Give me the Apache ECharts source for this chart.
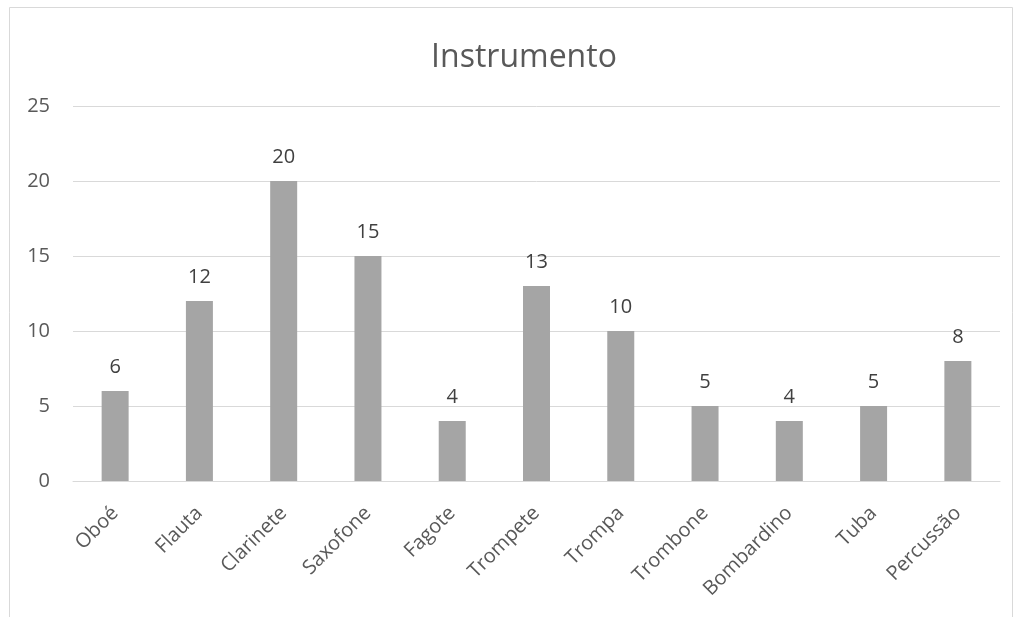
<!DOCTYPE html>
<html>
<head>
<meta charset="utf-8">
<script src="https://cdn.jsdelivr.net/npm/echarts@6/dist/echarts.min.js"></script>
<style>
  html, body { margin: 0; padding: 0; background: #fff; }
  #chart { width: 1021px; height: 617px; }
</style>
</head>
<body>
<div id="chart"></div>
<script>
  // dados do gráfico
  const categories = ["Oboé", "Flauta", "Clarinete", "Saxofone", "Fagote", "Trompete", "Trompa", "Trombone", "Bombardino", "Tuba", "Percussão"];
  const counts = [6, 12, 20, 15, 4, 13, 10, 5, 4, 5, 8];
  const yTicks = [0, 5, 10, 15, 20, 25];

  const font = "'Open Sans', 'Noto Sans', sans-serif";
  const myChart = echarts.init(document.getElementById("chart"));
  const option = {
    animation: false,
    backgroundColor: "#fff",
    graphic: [
      {
        type: "rect",
        shape: { x: 9.5, y: 7.5, width: 1003, height: 640 },
        style: { fill: "none", stroke: "#d9d9d9", lineWidth: 1 },
        silent: true,
      },
    ],
    title: {
      text: "Instrumento",
      left: 519,
      top: 37,
      textAlign: "center",
      textStyle: { fontFamily: font, fontSize: 32, fontWeight: "normal", color: "#595959" },
    },
    grid: { left: 73, right: 21, top: 106, bottom: 136 },
    xAxis: {
      type: "category",
      data: categories,
      axisLine: { lineStyle: { color: "#d9d9d9", width: 1 } },
      axisTick: { show: false },
      axisLabel: {
        rotate: 45,
        interval: 0,
        margin: 29,
        color: "#595959",
        fontFamily: font,
        fontSize: 20,
      },
    },
    yAxis: {
      type: "value",
      min: yTicks[0],
      max: yTicks[yTicks.length - 1],
      interval: 5,
      axisLine: { show: false },
      axisTick: { show: false },
      splitLine: { lineStyle: { color: "#d9d9d9", width: 1 } },
      axisLabel: {
        margin: 23,
        color: "#595959",
        fontFamily: font,
        fontSize: 20,
      },
    },
    series: [
      {
        type: "bar",
        data: counts,
        barWidth: 27,
        itemStyle: { color: "#a5a5a5" },
        label: {
          show: true,
          position: "top",
          distance: 14,
          color: "#404040",
          fontFamily: font,
          fontSize: 20,
        },
      },
    ],
  };
  myChart.setOption(option);
</script>
</body>
</html>
